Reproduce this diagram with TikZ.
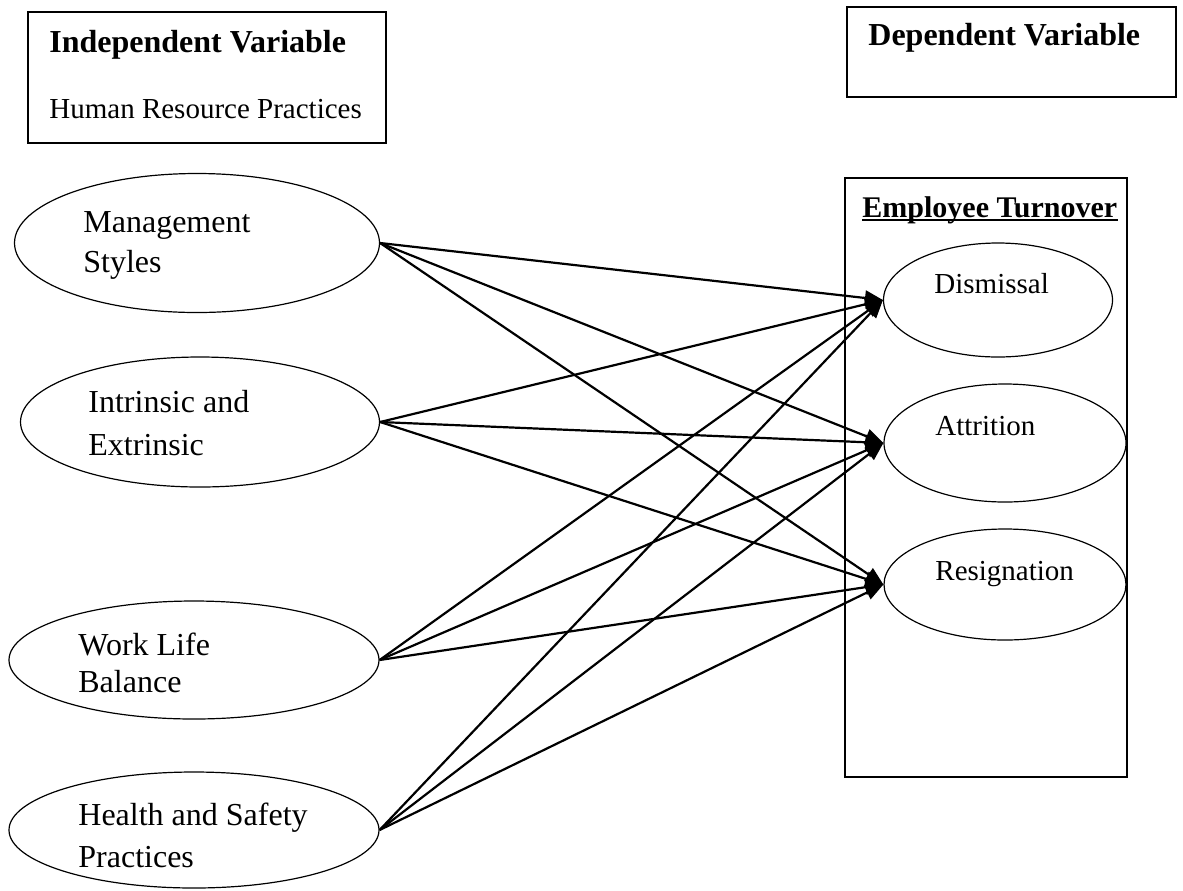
\documentclass[tikz,border=0pt]{standalone}
\usepackage{fontspec}
\setmainfont{Liberation Serif}
\usetikzlibrary{shapes.geometric,arrows.meta}
\begin{document}
\begin{tikzpicture}[x=0.5pt,y=-0.5pt,
 box/.style={draw,line width=0.75pt,inner sep=0,rectangle},
 thinbox/.style={draw,line width=0.55pt,inner sep=0,rectangle},
 oval/.style={draw,ellipse,line width=0.6pt,inner sep=0},
 txt/.style={anchor=base west,inner sep=0,font=\fontsize{14.5}{17}\selectfont},
 btxt/.style={anchor=base west,inner sep=0,font=\fontsize{16}{19}\selectfont},
 head/.style={anchor=base west,inner sep=0,font=\fontsize{16}{19}\selectfont\bfseries},
 link/.style={line width=1.1pt,-{Triangle[length=9pt,width=7.5pt]}}]
\useasboundingbox (0,0) rectangle (1183,890);
% header boxes
\node[box,minimum width=179pt,minimum height=65.5pt] (indbox) at (207,77.5) {};
\node[box,minimum width=164.5pt,minimum height=45pt] (depbox) at (1011.5,52) {};
\node[thinbox,minimum width=141pt,minimum height=299.5pt] (etbox) at (986,477.5) {};
\node[head] (indt) at (49,52) {Independent Variable};
\node[txt] (hrp) at (49,118) {Human Resource Practices};
\node[head] (dept) at (868,45) {Dependent Variable};
\node[anchor=base west,inner sep=0,font=\fontsize{15}{18}\selectfont\bfseries] (ett) at (862,217) {Employee Turnover};
\draw[line width=1pt] ([yshift=-1.6pt]ett.base west) -- ([yshift=-1.6pt]ett.base east);
% left ellipses
\node[oval,minimum width=182.5pt,minimum height=69.5pt] (ms) at (197,243) {};
\node[oval,minimum width=179.5pt,minimum height=65pt] (ie) at (200,422) {};
\node[oval,minimum width=185pt,minimum height=59pt] (wl) at (194,660) {};
\node[oval,minimum width=185pt,minimum height=58pt] (hs) at (194,830) {};
\node[btxt] (ms1) at (83,232) {Management};
\node[btxt] (ms2) at (83,272) {Styles};
\node[btxt] (ie1) at (88,412) {Intrinsic and};
\node[btxt] (ie2) at (88,455) {Extrinsic};
\node[btxt] (wl1) at (78,655) {Work Life};
\node[btxt] (wl2) at (78,692) {Balance};
\node[btxt] (hs1) at (78,825) {Health and Safety};
\node[btxt] (hs2) at (78,867) {Practices};
% right ellipses
\node[oval,minimum width=114.5pt,minimum height=57pt] (dis) at (998,300) {};
\node[oval,minimum width=121pt,minimum height=59pt] (att) at (1005,443) {};
\node[oval,minimum width=121pt,minimum height=55.5pt] (res) at (1005,584.5) {};
\node[txt] (dist) at (934,293) {Dismissal};
\node[txt] (attt) at (935,435) {Attrition};
\node[txt] (rest) at (935,580) {Resignation};
% connectors
\foreach \s in {ms,ie,wl,hs}{
  \foreach \t in {dis,att,res}{
    \draw[link] (\s.east) -- (\t.west);
  }
}
\end{tikzpicture}
\end{document}
